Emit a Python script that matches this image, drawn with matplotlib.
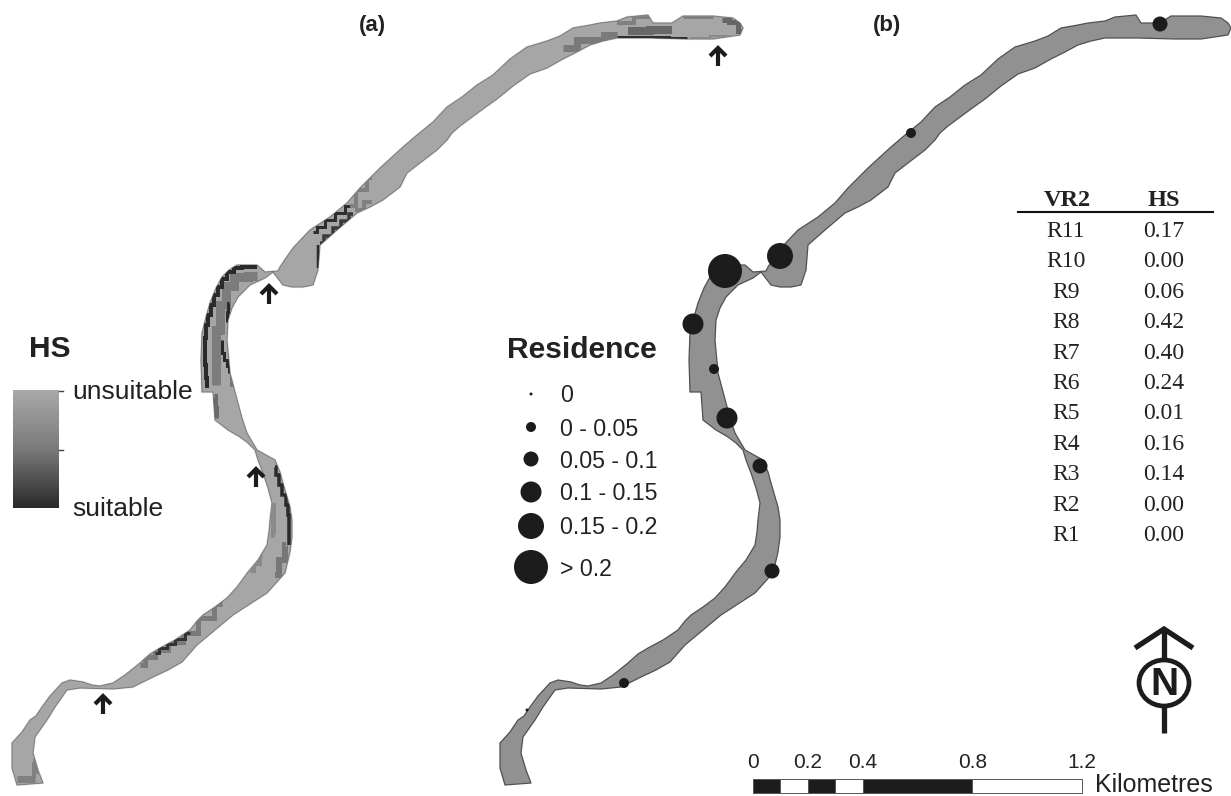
"""
River habitat suitability map (a) and receiver residence map (b)
"""

import numpy as np
import matplotlib
matplotlib.use("Agg")
import matplotlib.pyplot as plt
from matplotlib.colors import LinearSegmentedColormap
from matplotlib.patches import Polygon, Ellipse, Rectangle

plt.rcParams['font.family'] = ['Liberation Sans', 'DejaVu Sans']

# River outline ========================================
north_bank = [(17, 785), (12, 768), (12, 743), (22, 732), (30, 720), (36, 716), (42, 707), (50, 696),
              (62, 683), (70, 680), (83, 682), (92, 685), (100, 686), (113, 683), (125, 675), (140, 663),
              (150, 654), (160, 648), (175, 640), (190, 630), (197, 621), (203, 615), (215, 607), (227, 598),
              (237, 587), (248, 572), (258, 560), (267, 545), (269, 532), (270, 520), (272, 503), (268, 488),
              (263, 473), (258, 460), (255, 450), (248, 443), (240, 437), (228, 430), (215, 420), (213, 392),
              (202, 392), (201, 360), (202, 333), (206, 317), (210, 303), (216, 288), (222, 277), (229, 270),
              (237, 265), (257, 265), (265, 272), (278, 271), (280, 267), (286, 258), (293, 248), (310, 230),
              (330, 217), (347, 203), (360, 188), (373, 175), (380, 168), (403, 147), (417, 135), (433, 122),
              (447, 107), (462, 97), (477, 85), (493, 75), (510, 59), (527, 47), (547, 41), (560, 36),
              (573, 28), (590, 25), (600, 23), (617, 21), (627, 17), (648, 15), (653, 23), (672, 23),
              (683, 16), (713, 16), (733, 18), (740, 23), (743, 28), (740, 35)]
south_bank = [(713, 39), (687, 39), (650, 38), (617, 38), (603, 41), (590, 45), (575, 53), (563, 59),
              (547, 68), (530, 74), (513, 86), (497, 99), (483, 109), (460, 126), (452, 133), (447, 140),
              (437, 150), (420, 163), (407, 173), (400, 187), (383, 200), (370, 207), (357, 213), (337, 230),
              (320, 245), (318, 270), (313, 285), (303, 287), (292, 287), (283, 285), (273, 272), (265, 278),
              (250, 285), (238, 297), (232, 308), (228, 320), (227, 340), (230, 373), (234, 388), (238, 403),
              (242, 418), (247, 433), (257, 450), (275, 460), (280, 472), (283, 483), (290, 507), (292, 520),
              (292, 537), (290, 552), (285, 573), (267, 593), (250, 604), (233, 615), (215, 630), (197, 645),
              (182, 662), (168, 670), (153, 677), (133, 687), (113, 689), (80, 688), (67, 690), (55, 707),
              (47, 720), (35, 737), (33, 753), (38, 770), (43, 783)]
river = north_bank + south_bank
panel_b_shift = 488

# HS bands in panel (a): points, grey, width
hs_bands = [
    ([(257, 276), (238, 277), (230, 286), (222, 305), (217, 330), (215, 360), (216, 385)], '#7c7c7c', 9),
    ([(257, 267), (246, 267), (237, 268), (230, 272), (224, 279), (220, 287), (216, 295), (212, 305),
      (209, 315), (207, 325), (205, 338), (204, 350), (205, 365), (206, 378), (207, 388)], '#2a2a2a', 4),
    ([(229, 303), (227, 312), (227, 322)], '#2a2a2a', 3),
    ([(222, 340), (222, 353), (226, 360), (228, 366), (229, 373)], '#2a2a2a', 3),
    ([(214, 396), (215, 408), (216, 418)], '#6a6a6a', 5),
    ([(230, 375), (233, 385)], '#777777', 4),
    ([(275, 467), (277, 475), (280, 485), (284, 495), (287, 505), (288, 515), (289, 530), (289, 545)], '#2a2a2a', 3.5),
    ([(272, 505), (274, 535)], '#8a8a8a', 5),
    ([(286, 545), (283, 560), (275, 575)], '#777777', 6),
    ([(140, 665), (150, 657), (160, 650), (175, 642), (190, 633), (205, 618), (222, 604)], '#7a7a7a', 5),
    ([(155, 653), (163, 648), (170, 644), (180, 639), (190, 633)], '#333333', 3),
    ([(250, 570), (256, 563), (262, 556)], '#8a8a8a', 5),
    ([(313, 232), (320, 227), (330, 220), (340, 213), (350, 206)], '#2e2e2e', 3),
    ([(320, 243), (328, 236), (337, 228), (345, 221), (353, 214)], '#3a3a3a', 3.5),
    ([(318, 245), (318, 268)], '#2a2a2a', 2.5),
    ([(350, 206), (362, 190), (372, 178)], '#808080', 4),
    ([(355, 210), (372, 202)], '#808080', 4),
    ([(563, 48), (590, 40), (617, 35)], '#7a7a7a', 7),
    ([(617, 37), (650, 37), (687, 38)], '#2e2e2e', 3),
    ([(628, 31), (672, 30)], '#686868', 8),
    ([(617, 23), (650, 17)], '#808080', 4),
    ([(683, 17), (713, 17)], '#808080', 3),
    ([(722, 20), (735, 22), (741, 31)], '#666666', 5),
    ([(690, 38), (730, 36)], '#8a8a8a', 2),
    ([(17, 779), (35, 779)], '#808080', 7),
    ([(33, 762), (36, 775)], '#808080', 6),
]

# Map arrows in panel (a) ==============================
arrow_x = [718, 269, 256, 103]
arrow_tip_y = [47, 285, 468, 695]

# Receivers in panel (b) ===============================
receiver_x = [527, 624, 772, 760, 727, 714, 693, 725, 780, 911, 1160]
receiver_y = [710, 683, 571, 466, 418, 369, 324, 271, 256, 133, 24]
receiver_class = [0, 1, 2, 2, 3, 1, 3, 5, 4, 1, 2]

# Residence legend =====================================
residence_labels = ['0', '0 - 0.05', '0.05 - 0.1', '0.1 - 0.15', '0.15 - 0.2', '> 0.2']
residence_radius = [1.5, 5, 7.5, 10.5, 13, 17]
residence_y = [394, 427, 459, 492, 526, 567]

# VR2 table ============================================
vr2_names = ['R11', 'R10', 'R9', 'R8', 'R7', 'R6', 'R5', 'R4', 'R3', 'R2', 'R1']
vr2_hs = ['0.17', '0.00', '0.06', '0.42', '0.40', '0.24', '0.01', '0.16', '0.14', '0.00', '0.00']

# Scale bar ============================================
scale_breaks = [0, 0.1, 0.2, 0.3, 0.4, 0.8, 1.2]
scale_fill = ['#1c1c1c', 'white', '#1c1c1c', 'white', '#1c1c1c', 'white']
scale_labels = [0, 0.2, 0.4, 0.8, 1.2]

TEXT = '#222222'
SERIF = 'Liberation Serif'

fig = plt.figure(figsize=(12.31, 7.96), dpi=100)
ax = fig.add_axes([0, 0, 1, 1])

# panel (a)
ax.add_patch(Polygon(river, closed=True, fc='none', ec='#e6e6e6', lw=1.6, joinstyle='round'))
river_a = Polygon(river, closed=True, fc='#a6a6a6', ec='#787878', lw=0.7, joinstyle='round')
ax.add_patch(river_a)
for pts, grey, width in hs_bands:
    bx, by = zip(*pts)
    line, = ax.plot(bx, by, color=grey, lw=width * 0.72, drawstyle='steps-mid',
                    solid_capstyle='butt', solid_joinstyle='miter')
    line.set_clip_path(river_a)

# panel (b)
river_b = Polygon([(x + panel_b_shift, y) for x, y in river], closed=True, fc='#919191', ec='#505050',
                  lw=0.9, joinstyle='round')
ax.add_patch(river_b)
for x, y, k in zip(receiver_x, receiver_y, receiver_class):
    ax.add_patch(plt.Circle((x, y), residence_radius[k], fc='#1c1c1c', ec='none', zorder=3))

# arrows
for x, y in zip(arrow_x, arrow_tip_y):
    ax.plot([x, x], [y + 1, y + 19], color='#1c1c1c', lw=3, solid_capstyle='butt')
    ax.plot([x - 8, x, x + 8], [y + 9, y + 1, y + 9], color='#1c1c1c', lw=3, solid_joinstyle='miter',
            solid_capstyle='butt')

ax.text(372, 26, '(a)', fontsize=16, fontweight='bold', color=TEXT, ha='center', va='center')
ax.text(887, 26, '(b)', fontsize=16, fontweight='bold', color=TEXT, ha='center', va='center')

# HS colour bar
gradient = np.linspace(0, 1, 128).reshape(-1, 1)
hs_cmap = LinearSegmentedColormap.from_list('hs', ['#a9a9a9', '#7a7a7a', '#2a2a2a'])
ax.imshow(gradient, extent=(13, 59, 508, 390), cmap=hs_cmap, aspect='auto', zorder=2)
for tick_y in [391, 450]:
    ax.plot([59, 63], [tick_y, tick_y], color='#444444', lw=1)
ax.text(29, 349, 'HS', fontsize=21.5, fontweight='bold', color=TEXT, va='center')
ax.text(72, 392, 'unsuitable', fontsize=19, color=TEXT, va='center')
ax.text(72, 509, 'suitable', fontsize=19, color=TEXT, va='center')

# Residence legend
ax.text(507, 350, 'Residence', fontsize=21.6, fontweight='bold', color=TEXT, va='center')
for label, r, y in zip(residence_labels, residence_radius, residence_y):
    ax.add_patch(plt.Circle((531, y), r, fc='#1c1c1c', ec='none'))
    ax.text(560, y + 2, label, fontsize=16.7, color=TEXT, va='center')

# table
ax.text(1067, 200, 'VR2', family=SERIF, fontsize=17.5, fontweight='bold', color=TEXT, ha='center', va='center')
ax.text(1164, 200, 'HS', family=SERIF, fontsize=17.5, fontweight='bold', color=TEXT, ha='center', va='center')
ax.plot([1018, 1213], [212, 212], color='#111111', lw=1.5)
for i, (name, hs) in enumerate(zip(vr2_names, vr2_hs)):
    y = 231.5 + i * 30.4
    ax.text(1066, y, name, family=SERIF, fontsize=17, color=TEXT, ha='center', va='center')
    ax.text(1164, y, hs, family=SERIF, fontsize=17, color=TEXT, ha='center', va='center')

# north arrow
ax.plot([1164, 1164], [631, 660], color='#1c1c1c', lw=3.8, solid_capstyle='butt')
ax.plot([1164, 1164], [707, 733], color='#1c1c1c', lw=3.8, solid_capstyle='butt')
ax.plot([1135, 1164, 1193], [648, 629, 648], color='#1c1c1c', lw=3.8, solid_joinstyle='miter',
        solid_capstyle='butt')
ax.add_patch(Ellipse((1164, 683), 50, 46, fc='white', ec='#1c1c1c', lw=3.4))
ax.text(1164, 685, 'N', fontsize=28, fontweight='bold', color='#1c1c1c', ha='center', va='center')

# scale bar
km_px = 274.2
scale_x0 = 753
for i, fc in enumerate(scale_fill):
    x0 = scale_x0 + scale_breaks[i] * km_px
    w = (scale_breaks[i + 1] - scale_breaks[i]) * km_px
    ax.add_patch(Rectangle((x0, 779), w, 14, fc=fc, ec='#555555', lw=0.7))
for km in scale_labels:
    ax.text(scale_x0 + km * km_px, 763, f'{km:g}', fontsize=15, color=TEXT, ha='center', va='center')
ax.text(1095, 785, 'Kilometres', fontsize=18, color=TEXT, va='center')

ax.set_xlim(0, 1231)
ax.set_ylim(796, 0)
ax.axis('off')

fig.savefig('out.png', dpi=100)
